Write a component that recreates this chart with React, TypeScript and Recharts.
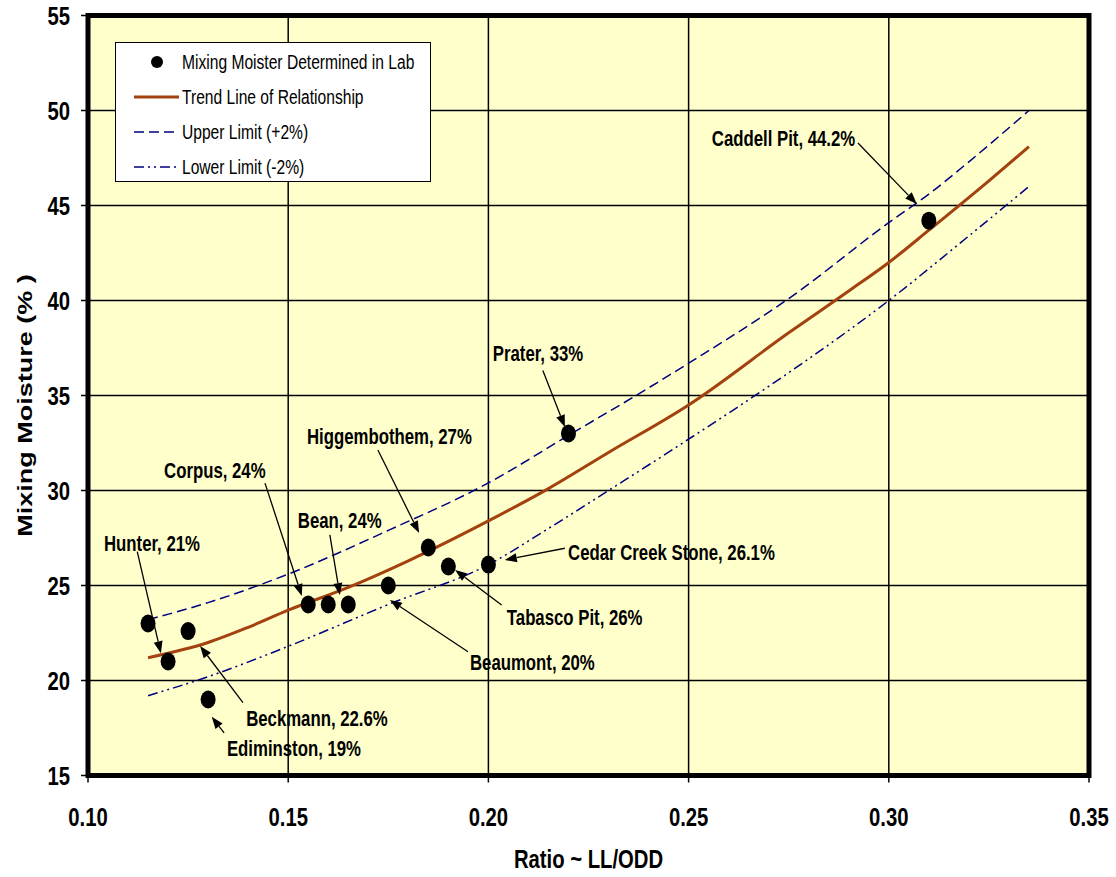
import React from "react"
import {
  ComposedChart,
  Line,
  Scatter,
  XAxis,
  YAxis,
  CartesianGrid,
  ReferenceArea,
  ReferenceLine,
  ReferenceDot,
} from "recharts"

// lab points
const labX = [0.115, 0.12, 0.125, 0.13, 0.155, 0.16, 0.165, 0.175, 0.185, 0.19, 0.2, 0.22, 0.31]
const labY = [23, 21, 22.6, 19, 24, 24, 24, 25, 27, 26, 26.1, 33, 44.2]

// trend line of relationship
const trendX = [0.115, 0.13, 0.14, 0.15, 0.165, 0.18, 0.2, 0.215, 0.23, 0.25, 0.275, 0.29, 0.3, 0.31, 0.325, 0.335]
const trendY = [21.2, 22.0, 22.8, 23.7, 24.9, 26.3, 28.4, 30.1, 32.0, 34.5, 38.3, 40.5, 42.0, 43.7, 46.3, 48.1]

// upper limit (+2%)
const upperX = [0.115, 0.13, 0.15, 0.175, 0.2, 0.22, 0.24, 0.25, 0.275, 0.3, 0.31, 0.32, 0.335]
const upperY = [23.2, 24.1, 25.6, 27.9, 30.4, 32.9, 35.4, 36.7, 40.1, 44.1, 45.6, 47.3, 50.0]

// lower limit (-2%)
const lowerX = [0.115, 0.13, 0.15, 0.175, 0.2, 0.215, 0.23, 0.25, 0.275, 0.3, 0.32, 0.335]
const lowerY = [19.2, 20.2, 21.8, 24.0, 26.1, 28.0, 30.0, 32.7, 36.2, 40.0, 43.4, 46.0]

const xTicks = [0.1, 0.15, 0.2, 0.25, 0.3, 0.35]
const yTicks = [15, 20, 25, 30, 35, 40, 45, 50, 55]

// callouts: label anchor, arrow tail, arrow tip (data coords)
const callouts = [
  { text: "Caddell Pit, 44.2%", at: [0.2558, 48.55], from: [0.2923, 48.29], to: [0.307, 45.08] },
  { text: "Prater, 33%", at: [0.2011, 37.24], from: [0.2136, 36.32], to: [0.2191, 33.34] },
  { text: "Higgembothem, 27%", at: [0.1547, 32.87], from: [0.1724, 32.13], to: [0.1827, 27.76] },
  { text: "Corpus, 24%", at: [0.119, 31.08], from: [0.1442, 30.39], to: [0.1534, 24.45] },
  { text: "Bean, 24%", at: [0.1524, 28.45], from: [0.1604, 27.66], to: [0.1629, 24.5] },
  { text: "Hunter, 21%", at: [0.104, 27.24], from: [0.1123, 26.78], to: [0.1182, 21.43] },
  { text: "Beckmann, 22.6%", at: [0.1395, 18.03], from: [0.1387, 18.83], to: [0.128, 21.82] },
  { text: "Ediminston, 19%", at: [0.1347, 16.45], from: [0.134, 17.24], to: [0.1309, 18.09] },
  { text: "Beaumont, 20%", at: [0.1954, 20.97], from: [0.1949, 21.51], to: [0.1754, 24.24] },
  { text: "Tabasco Pit, 26%", at: [0.2046, 23.34], from: [0.2033, 23.97], to: [0.1917, 25.82] },
  { text: "Cedar Creek Stone, 26.1%", at: [0.2199, 26.76], from: [0.2191, 26.96], to: [0.2041, 26.34] },
]

const legendLabels = ["Mixing Moister Determined in Lab", "Trend Line of Relationship", "Upper Limit (+2%)", "Lower Limit (-2%)"]

const zip = (xs: number[], ys: number[]) => xs.map((x, i) => ({ x, y: ys[i] }))

const labData = zip(labX, labY)
const trendData = zip(trendX, trendY)
const upperData = zip(upperX, upperY)
const lowerData = zip(lowerX, lowerY)

const FONT = "'Liberation Sans', Arial, sans-serif"
const SQUEEZE = 0.78 // the original type is a condensed Arial
const BG = "#FFFFCC"
const TREND = "#A3410F"
const NAVY = "#000080"
const UPPER_DASH = "10 5"
const LOWER_DASH = "10 4 2 4 2 4"

const Arrow = (props: any) => {
  const { x1, y1, x2, y2 } = props
  const ang = Math.atan2(y2 - y1, x2 - x1)
  const len = 12
  const w = 4.5
  const bx = x2 - len * Math.cos(ang)
  const by = y2 - len * Math.sin(ang)
  const px = -Math.sin(ang) * w
  const py = Math.cos(ang) * w
  return (
    <g>
      <line x1={x1} y1={y1} x2={bx} y2={by} stroke="#000" strokeWidth={1.3} />
      <polygon points={`${x2},${y2} ${bx + px},${by + py} ${bx - px},${by - py}`} fill="#000" />
    </g>
  )
}

const Dot = (props: any) => <ellipse cx={props.cx} cy={props.cy} rx={7.5} ry={9} fill="#000" />

const XTick = (props: any) => {
  const { x, y, payload } = props
  return (
    <text transform={`translate(${x},${y}) scale(${SQUEEZE},1)`} textAnchor="middle" fontFamily={FONT} fontWeight={700} fontSize={26} fill="#000">
      {Number(payload.value).toFixed(2)}
    </text>
  )
}

const YTick = (props: any) => {
  const { x, y, payload } = props
  return (
    <text transform={`translate(${x},${y}) scale(${SQUEEZE},1)`} textAnchor="end" dy="0.36em" fontFamily={FONT} fontWeight={700} fontSize={26} fill="#000">
      {payload.value}
    </text>
  )
}

const XTitle = (props: any) => {
  const vb = props.viewBox
  return (
    <text transform={`translate(${vb.x + vb.width / 2},868) scale(${SQUEEZE},1)`} textAnchor="middle" fontFamily={FONT} fontWeight={700} fontSize={26} fill="#000">
      Ratio ~ LL/ODD
    </text>
  )
}

const YTitle = (props: any) => {
  const vb = props.viewBox
  return (
    <text transform={`translate(32,${vb.y + vb.height / 2 + 10}) scale(${SQUEEZE},1) rotate(-90)`} textAnchor="middle" fontFamily={FONT} fontWeight={700} fontSize={27} fill="#000">
      Mixing Moisture (% )
    </text>
  )
}

const LegendBox = () => (
  <div
    style={{
      position: "absolute",
      left: 115,
      top: 42,
      width: 314,
      height: 138,
      background: "#fff",
      border: "1.5px solid #000",
      fontFamily: FONT,
      fontSize: 20,
      color: "#000",
    }}
  >
    {legendLabels.map((label, i) => (
      <div key={i} style={{ position: "absolute", left: 0, top: 5 + i * 35, height: 28, display: "flex", alignItems: "center" }}>
        <svg width={66} height={28}>
          {i === 0 && <circle cx={41} cy={14} r={6} fill="#000" />}
          {i === 1 && <line x1={18} y1={14} x2={63} y2={14} stroke={TREND} strokeWidth={3} />}
          {i === 2 && <line x1={18} y1={14} x2={60} y2={14} stroke={NAVY} strokeWidth={1.5} strokeDasharray={UPPER_DASH} />}
          {i === 3 && <line x1={18} y1={14} x2={60} y2={14} stroke={NAVY} strokeWidth={1.5} strokeDasharray={LOWER_DASH} />}
        </svg>
        <span style={{ whiteSpace: "nowrap", display: "inline-block", transform: `scaleX(${SQUEEZE})`, transformOrigin: "left center" }}>
          {label}
        </span>
      </div>
    ))}
  </div>
)

export default function App() {
  return (
    <div style={{ position: "absolute", left: 0, top: 0, width: 1116, height: 877, background: "#fff" }}>
      <ComposedChart width={1116} height={877} margin={{ top: 15.5, right: 27, bottom: 0, left: 0 }}>
        <CartesianGrid fill={BG} stroke="#000" strokeWidth={1.5} horizontalValues={yTicks} verticalValues={xTicks} />
        <XAxis
          dataKey="x"
          type="number"
          domain={[0.1, 0.35]}
          ticks={xTicks}
          height={101.5}
          tickSize={7}
          tickMargin={43}
          axisLine={false}
          tickLine={{ stroke: "#000", strokeWidth: 1.5 }}
          tick={XTick}
          label={<XTitle />}
        />
        <YAxis
          dataKey="y"
          type="number"
          domain={[15, 55]}
          ticks={yTicks}
          width={88}
          tickSize={7}
          tickMargin={11}
          axisLine={false}
          tickLine={{ stroke: "#000", strokeWidth: 1.5 }}
          tick={YTick}
          label={<YTitle />}
        />
        <ReferenceArea x1={0.1} x2={0.35} y1={15} y2={55} fill="none" stroke="#000" strokeWidth={5} ifOverflow="visible" />
        <Line data={upperData} dataKey="y" type="monotone" stroke={NAVY} strokeWidth={1.5} strokeDasharray={UPPER_DASH} dot={false} isAnimationActive={false} />
        <Line data={lowerData} dataKey="y" type="monotone" stroke={NAVY} strokeWidth={1.5} strokeDasharray={LOWER_DASH} dot={false} isAnimationActive={false} />
        <Line data={trendData} dataKey="y" type="monotone" stroke={TREND} strokeWidth={3} dot={false} isAnimationActive={false} />
        <Scatter data={labData} dataKey="y" shape={Dot} isAnimationActive={false} />
        {callouts.map((c) => (
          <ReferenceLine
            key={"a" + c.text}
            segment={[{ x: c.from[0], y: c.from[1] }, { x: c.to[0], y: c.to[1] }]}
            shape={Arrow}
            ifOverflow="visible"
          />
        ))}
        {callouts.map((c) => (
          <ReferenceDot
            key={"t" + c.text}
            x={c.at[0]}
            y={c.at[1]}
            r={0}
            ifOverflow="visible"
            shape={(p: any) => (
              <text transform={`translate(${p.cx},${p.cy}) scale(${SQUEEZE},1)`} dy="0.36em" fontFamily={FONT} fontWeight={700} fontSize={21.5} fill="#000">
                {c.text}
              </text>
            )}
          />
        ))}
      </ComposedChart>
      <LegendBox />
    </div>
  )
}
